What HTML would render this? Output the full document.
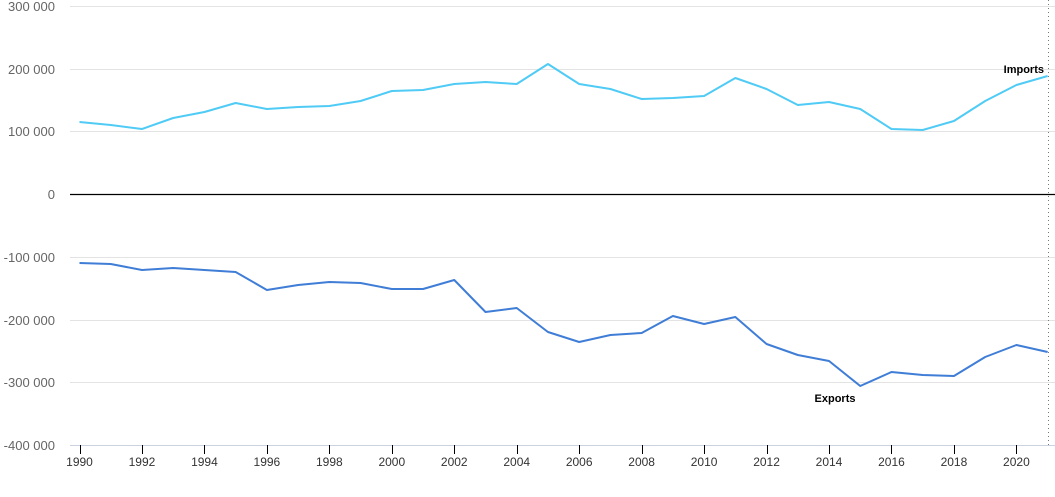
<!DOCTYPE html>
<html><head><style>
body{margin:0;background:#fff;width:1055px;height:492px;overflow:hidden}
svg{font-family:"Liberation Sans",sans-serif}
</style></head><body>
<svg width="1055" height="492" xmlns="http://www.w3.org/2000/svg">
<g stroke="#e3e3e3" stroke-width="1">
<line x1="70" x2="1055" y1="6.5" y2="6.5"/><line x1="70" x2="1055" y1="69.5" y2="69.5"/>
<line x1="70" x2="1055" y1="131.5" y2="131.5"/><line x1="70" x2="1055" y1="257.5" y2="257.5"/>
<line x1="70" x2="1055" y1="320.5" y2="320.5"/><line x1="70" x2="1055" y1="382.5" y2="382.5"/>
</g>
<line x1="70" x2="1055" y1="194.5" y2="194.5" stroke="#000" stroke-width="1.2"/>
<line x1="70" x2="1055" y1="445.5" y2="445.5" stroke="#ccd3e0" stroke-width="1"/>
<line x1="1048.5" x2="1048.5" y1="0" y2="445" stroke="#777" stroke-dasharray="1,3"/>
<g fill="#666" font-size="13" text-anchor="end">
<text x="55" y="11">300 000</text><text x="55" y="74">200 000</text><text x="55" y="136">100 000</text>
<text x="55" y="199">0</text><text x="55" y="262">-100 000</text><text x="55" y="325">-200 000</text>
<text x="55" y="387">-300 000</text><text x="55" y="450">-400 000</text>
</g>
<g id="ticks" stroke="#000" stroke-width="1"></g>
<g id="labels" fill="#333" font-size="12" text-anchor="middle"></g>
<polyline id="imp" fill="none" stroke="#4fcbf5" stroke-width="2" stroke-linejoin="round"/>
<polyline id="exp" fill="none" stroke="#3f7dd6" stroke-width="2" stroke-linejoin="round"/>
<text x="1044" y="73" font-size="11" font-weight="bold" text-anchor="end" fill="#000">Imports</text>
<text x="835" y="402" font-size="11" font-weight="bold" text-anchor="middle" fill="#000">Exports</text>
</svg>
<script>
var imp=[122,125,129,118,112,103,109,107,106,101,91,90,84,82,84,64,84,89,99,98,96,78,89,105,102,109,129,130,121,101,85,76];
var exp=[263,264,270,268,270,272,290,285,282,283,289,289,280,312,308,332,342,335,333,316,324,317,344,355,361,386,372,375,376,357,345,352];
function X(i){return 79.5+i*31.23;}
document.getElementById('imp').setAttribute('points',imp.map((v,i)=>X(i)+','+v).join(' '));
document.getElementById('exp').setAttribute('points',exp.map((v,i)=>X(i)+','+v).join(' '));
var t='',l='';
for(var i=0;i<=30;i+=2){var x=Math.round(X(i))+0.5;t+='<line x1="'+x+'" x2="'+x+'" y1="445" y2="454"/>';l+='<text x="'+X(i)+'" y="466">'+(1990+i)+'</text>';}
document.getElementById('ticks').innerHTML=t;document.getElementById('labels').innerHTML=l;
</script>
</body></html>
